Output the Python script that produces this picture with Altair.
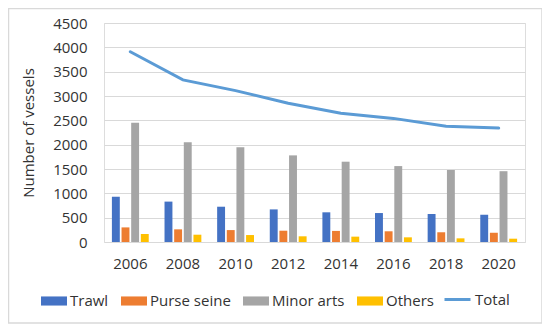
import altair as alt
import pandas as pd

years = ["2006", "2008", "2010", "2012", "2014", "2016", "2018", "2020"]
trawl = [930, 830, 725, 670, 610, 595, 575, 560]
purse_seine = [300, 260, 245, 232, 228, 220, 200, 190]
minor_arts = [2450, 2050, 1945, 1780, 1650, 1560, 1480, 1455]
others = [165, 150, 143, 117, 110, 96, 75, 68]
total = [3910, 3330, 3110, 2850, 2645, 2540, 2380, 2340]

series_names = ["Trawl", "Purse seine", "Minor arts", "Others"]
series_colors = ["#4472C4", "#ED7D31", "#A5A5A5", "#FFC000"]
line_name = "Total"
line_color = "#5B9BD5"
y_ticks = [0, 500, 1000, 1500, 2000, 2500, 3000, 3500, 4000, 4500]

rows = []
for name, vals in zip(series_names, [trawl, purse_seine, minor_arts, others]):
    for yr, v in zip(years, vals):
        rows.append({"Year": yr, "Series": name, "Value": v})
bars_df = pd.DataFrame(rows)
line_df = pd.DataFrame({"Year": years, "Value": total, "Series": [line_name] * len(years)})

FONT = "Open Sans"
TXT = "#333333"

x_enc = alt.X("Year:N", sort=years,
              scale=alt.Scale(paddingInner=0.3, paddingOuter=0.15),
              axis=alt.Axis(title=None, labelAngle=0, ticks=False, domain=False,
                            grid=False, labelPadding=14, labelFontSize=15,
                            labelFont=FONT, labelColor=TXT))

y_enc = alt.Y("Value:Q", scale=alt.Scale(domain=[0, 4500], nice=False),
              axis=alt.Axis(title="Number of vessels", values=y_ticks, format="d",
                            labelOverlap=False, ticks=False,
                            domain=False, grid=True, gridColor="#D9D9D9",
                            labelPadding=17, labelFontSize=15, labelFont=FONT,
                            labelColor=TXT, titleFontSize=15, titleFont=FONT,
                            titleColor=TXT, titleFontWeight="normal",
                            titleX=-76, titleY=109.5, titleAngle=-90,
                            titleAlign="center", titleBaseline="middle"))

bars = alt.Chart(bars_df).mark_bar().encode(
    x=x_enc,
    xOffset=alt.XOffset("Series:N", sort=series_names,
                        scale=alt.Scale(paddingInner=0.18, paddingOuter=0)),
    y=y_enc,
    color=alt.Color("Series:N", sort=series_names,
                    scale=alt.Scale(domain=series_names, range=series_colors),
                    legend=alt.Legend(title=None, orient="none", direction="horizontal",
                                      legendX=-63, legendY=265, padding=0,
                                      symbolType="M-1,-0.35H1V0.35H-1Z",
                                      symbolSize=676, symbolStrokeWidth=0,
                                      labelFontSize=15, labelFont=FONT, labelColor=TXT,
                                      labelOffset=3, columnPadding=12)),
)

line = alt.Chart(line_df).mark_line(strokeWidth=3, strokeCap="round").encode(
    x=x_enc,
    y=y_enc,
    color=alt.Color("Series:N",
                    scale=alt.Scale(domain=[line_name], range=[line_color]),
                    legend=alt.Legend(title=None, orient="none", direction="horizontal",
                                      legendX=339, legendY=262, padding=0,
                                      symbolType="stroke", symbolSize=676,
                                      symbolStrokeWidth=3,
                                      labelFontSize=15, labelFont=FONT, labelColor=TXT,
                                      labelOffset=3)),
)

frame = alt.Chart(alt.Data(values=[{"k": 1}])).mark_rect(
    fill="transparent", stroke="#D9D9D9", strokeWidth=1.5
).encode(
    x=alt.value(-95.5), x2=alt.value(438), y=alt.value(-14.5), y2=alt.value(300)
)

chart = alt.layer(frame, bars, line).resolve_scale(color="independent").properties(
    width=421, height=219,
    autosize=alt.AutoSizeParams(type="none"),
    padding={"left": 96, "top": 15, "right": 17, "bottom": 84},
).configure_view(stroke=None).configure(background="white")

chart.save("out.html", embed_options={"renderer": "svg", "actions": False})
